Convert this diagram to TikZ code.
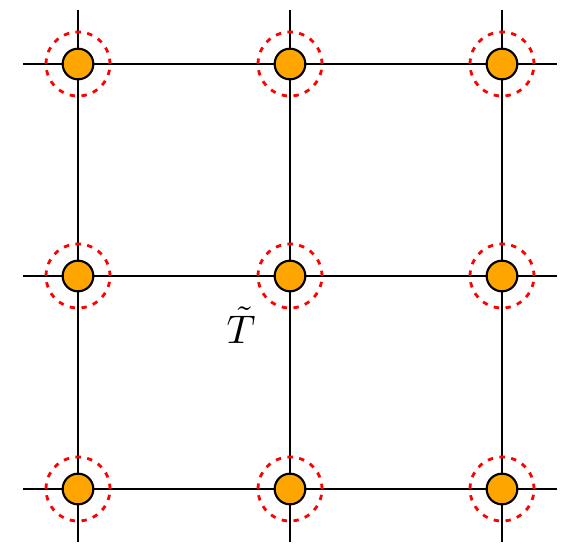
\documentclass[tikz,border=0pt]{standalone}
\usepackage{graphicx}
\definecolor{nodeorange}{HTML}{FFA500}
\begin{document}
\begin{tikzpicture}[x=0.75pt,y=-0.75pt,
  gridline/.style={draw=black,line width=1.6pt},
  site/.style={circle,draw=black,fill=nodeorange,line width=1.6pt,minimum size=23pt,inner sep=0pt},
  halo/.style={circle,draw=red,line width=2.1pt,dash pattern=on 4pt off 4.9pt,minimum size=48pt,inner sep=0pt}]
\useasboundingbox (0,0) rectangle (562,544);
% line end coordinates
\foreach \x [count=\i] in {78,290,502}{
  \coordinate (vt\i) at (\x,10);
  \coordinate (vb\i) at (\x,542);
}
\foreach \y [count=\j] in {64,276,489}{
  \coordinate (hl\j) at (23,\y);
  \coordinate (hr\j) at (557,\y);
}
\foreach \i in {1,2,3}{
  \draw[gridline] (vt\i) -- (vb\i);
  \draw[gridline] (hl\i) -- (hr\i);
}
\foreach \x [count=\i] in {78,290,502}{
  \foreach \y [count=\j] in {64,276,489}{
    \node[halo] (h\i\j) at (\x,\y) {};
    \node[site] (s\i\j) at (\x,\y) {};
  }
}
\node[inner sep=0pt] (T) at (241,325) {\scalebox{3}{$\tilde{T}$}};
\end{tikzpicture}
\end{document}
